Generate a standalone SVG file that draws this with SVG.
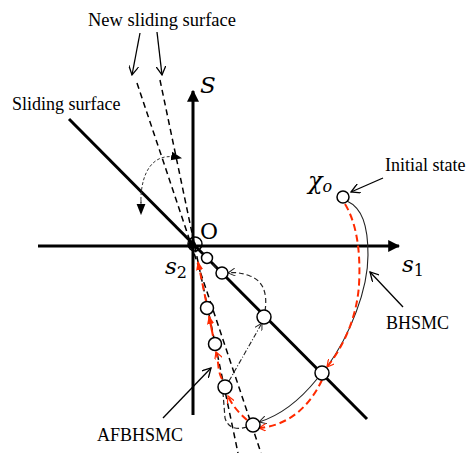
<svg xmlns="http://www.w3.org/2000/svg" width="466" height="453" viewBox="0 0 466 453">
<style>
.lbl{font-family:"Liberation Serif","Times New Roman",serif;font-size:18px;fill:#000}
.math{font-family:"DejaVu Serif","Liberation Serif",serif;font-style:italic;fill:#000}
.axis{stroke:#000;stroke-width:3;fill:none}
.surf{stroke:#000;stroke-width:3;fill:none}
.nsurf{stroke:#000;stroke-width:1.5;stroke-dasharray:6 4;fill:none}
.ptr{stroke:#000;stroke-width:1.3;fill:none}
.red{stroke:#ff2a00;stroke-width:2;stroke-dasharray:7 4;fill:none}
.blk{stroke:#222;stroke-width:1.1;fill:none}
.blkd{stroke:#222;stroke-width:1.2;stroke-dasharray:5 3;fill:none}
.pt{fill:#fff;stroke:#000;stroke-width:1.5}
</style>
<defs>
<marker id="axhead" viewBox="0 0 10 10" refX="9" refY="5" markerWidth="4" markerHeight="4" orient="auto" markerUnits="strokeWidth"><path d="M0,0 L10,5 L0,10 z" fill="#000"/></marker>
<marker id="open" viewBox="0 0 10 10" refX="9" refY="5" markerWidth="10" markerHeight="10" orient="auto" markerUnits="userSpaceOnUse"><path d="M0,0 L9,5 L0,10" fill="none" stroke="#000" stroke-width="1.3"/></marker>
<marker id="openk" viewBox="0 0 10 10" refX="9" refY="5" markerWidth="8" markerHeight="8" orient="auto" markerUnits="userSpaceOnUse"><path d="M0,0 L9,5 L0,10" fill="none" stroke="#222" stroke-width="1.2"/></marker>
<marker id="redh" viewBox="0 0 10 10" refX="9" refY="5" markerWidth="9" markerHeight="9" orient="auto" markerUnits="userSpaceOnUse"><path d="M0,1 L10,5 L0,9 z" fill="#ff2a00"/></marker>
<marker id="redo" viewBox="0 0 10 10" refX="9" refY="5" markerWidth="8" markerHeight="8" orient="auto" markerUnits="userSpaceOnUse"><path d="M0,0 L9,5 L0,10" fill="none" stroke="#ff2a00" stroke-width="1.5"/></marker>
<marker id="blkh" viewBox="0 0 10 10" refX="9" refY="5" markerWidth="11" markerHeight="11" orient="auto" markerUnits="userSpaceOnUse"><path d="M0,1 L10,5 L0,9 z" fill="#000"/></marker>
</defs>

<g id="axes">
<line class="axis" x1="38" y1="246" x2="399" y2="246" marker-end="url(#axhead)"/>
<line class="axis" x1="193" y1="415" x2="193" y2="91" marker-end="url(#axhead)"/>
</g>

<g id="sliding-surface">
<line class="surf" x1="69" y1="119" x2="367" y2="419"/>
</g>

<g id="new-sliding-surfaces">
<line class="nsurf" x1="137" y1="83" x2="261" y2="453"/>
<line class="nsurf" x1="160" y1="80" x2="238" y2="453"/>
</g>

<g id="connectors">
<!-- label pointers -->
<line class="ptr" x1="140" y1="33" x2="132" y2="75" marker-end="url(#open)"/>
<line class="ptr" x1="157" y1="32" x2="162" y2="75" marker-end="url(#open)"/>
<line class="ptr" x1="383" y1="178" x2="351" y2="192" marker-end="url(#open)"/>
<line class="ptr" x1="403" y1="307" x2="370" y2="272" marker-end="url(#open)"/>
<line class="ptr" x1="163" y1="418" x2="211" y2="368" marker-end="url(#open)"/>
<!-- rotation arc -->
<path d="M141,205 C140,180 148,160 165,157 C172,156 176,157 181,158" fill="none" stroke="#333" stroke-width="1" stroke-dasharray="3 2" marker-end="url(#blkh)"/>
<path d="M141,200 L141,214" fill="none" stroke="#333" stroke-width="1" stroke-dasharray="3 2" marker-end="url(#blkh)"/>
<!-- BHSMC (black) -->
<path class="blk" d="M347,201 C362,208 368,225 368,255 C368,290 350,335 327,367" stroke="#4a3050"/>
<path class="blk" d="M317,379 C300,400 282,415 259,422" marker-end="url(#openk)"/>
<path class="blkd" d="M247,427 C236,430 228,428 225,418 L223,393"/>
<path class="blk" d="M229,381 L262,323" stroke-dasharray="5 2 1 2" marker-end="url(#openk)"/>
<path class="blkd" d="M265,311 C268,292 262,280 250,276 C242,273 236,272 228,273" marker-end="url(#openk)"/>
<path class="blkd" d="M216,268 L211,262"/>
<!-- AFBHSMC (red) -->
<path class="red" d="M345,204 C356,222 361,250 359,285 C357,315 345,345 327,367" marker-end="url(#redo)"/>
<path class="red" d="M322,380 C308,410 285,426 259,428" marker-end="url(#redo)"/>
<path class="red" d="M247,420 C238,412 232,405 228,396" marker-end="url(#redo)"/>
<path class="red" d="M222,379 C217,370 219,360 216,352" marker-end="url(#redo)"/>
<path d="M213,336 L209,316" fill="none" stroke="#ff2a00" stroke-width="2" marker-end="url(#redh)"/>
<path class="red" d="M206,301 L198,262" marker-end="url(#redh)"/>
</g>

<g id="node-origin"><circle cx="195" cy="244" r="7" fill="none" stroke="#000" stroke-width="1.5"/><circle cx="192" cy="245" r="4" fill="#000"/></g>
<g id="node-x0"><circle class="pt" cx="343" cy="197" r="6"/></g>
<g id="node-b"><circle class="pt" cx="322" cy="373" r="7"/></g>
<g id="node-c"><circle class="pt" cx="253" cy="425" r="7"/></g>
<g id="node-d"><circle class="pt" cx="225" cy="387" r="7"/></g>
<g id="node-e"><circle class="pt" cx="215" cy="344" r="6.5"/></g>
<g id="node-f"><circle class="pt" cx="207" cy="308" r="6.5"/></g>
<g id="node-g"><circle class="pt" cx="264" cy="317" r="7"/></g>
<g id="node-h"><circle class="pt" cx="222" cy="273" r="6"/></g>
<g id="node-i"><circle class="pt" cx="207" cy="258" r="5.5"/></g>

<g id="labels">
<text class="lbl" x="88" y="26" style="font-size:18.5px">New sliding surface</text>
<text class="lbl" x="12" y="110">Sliding surface</text>
<text class="lbl" x="385" y="171">Initial state</text>
<text class="lbl" x="386" y="329">BHSMC</text>
<text class="lbl" x="97" y="441">AFBHSMC</text>
<text class="math" x="200" y="93" font-size="23">S</text>
<text class="math" x="200" y="239" font-size="22" style="font-style:normal">O</text>
<text class="math" x="402" y="272" font-size="23">s<tspan font-size="16" dy="4" style="font-style:normal">1</tspan></text>
<text class="math" x="165" y="274" font-size="23">s<tspan font-size="16" dy="4" style="font-style:normal">2</tspan></text>
<text class="math" x="308" y="189" font-size="24">χ<tspan font-size="16" dy="3">o</tspan></text>
</g>
</svg>
